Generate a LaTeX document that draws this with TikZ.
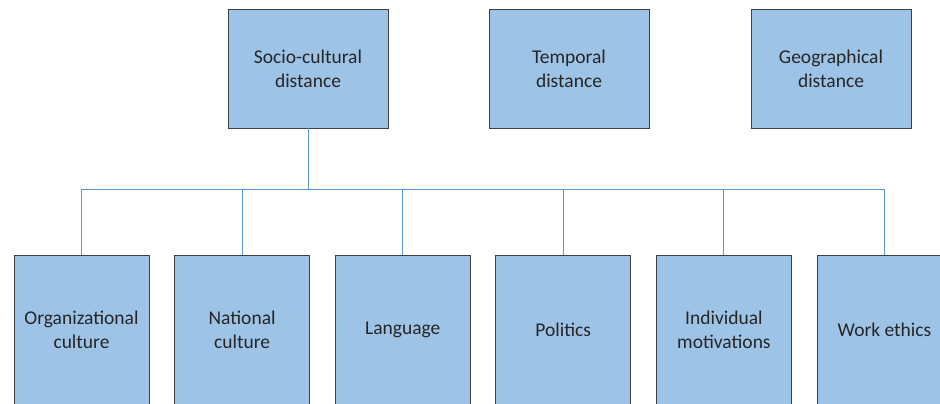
\documentclass[tikz,border=0pt]{standalone}
\usepackage{fontspec}
\setmainfont{Carlito}
\usetikzlibrary{positioning}
\definecolor{boxfill}{HTML}{9DC3E6}
\definecolor{boxline}{HTML}{3F3F3F}
\definecolor{busline}{HTML}{5B9BD5}
\definecolor{txt}{HTML}{262626}

\begin{document}
\begin{tikzpicture}[x=1pt,y=-1pt,on grid,
  topbox/.style={draw=boxline,line width=0.9pt,fill=boxfill,text=txt,
    minimum width=160pt,minimum height=119pt,align=center,
    font=\fontsize{19.5}{24}\selectfont},
  leafbox/.style={topbox,minimum width=135pt,minimum height=150pt},
  conn/.style={busline,line width=1pt}]
  \useasboundingbox (0,0) rectangle (940,404);
  \clip (0,0) rectangle (940,404);
  % distances
  \node[topbox] (socio) at (308,68.5) {Socio-cultural\\distance};
  \node[topbox] (temporal) [right=261pt of socio] {Temporal\\distance};
  \node[topbox] (geo) [right=262pt of temporal] {Geographical\\distance};
  % factors
  \node[leafbox] (org) at (81.5,330) {Organizational\\culture};
  \node[leafbox] (nat) [right=160.6pt of org] {National\\culture};
  \node[leafbox] (lang) [right=160.6pt of nat] {Language};
  \node[leafbox] (pol) [right=160.6pt of lang] {Politics};
  \node[leafbox] (ind) [right=160.6pt of pol] {Individual\\motivations};
  \node[leafbox] (work) [right=160.6pt of ind] {Work ethics};
  \path (socio.south) ++(0,61) coordinate (bus);
  \foreach \n in {org,nat,lang,pol,ind,work}
    \draw[conn] (socio.south) -- (bus) -| (\n.north);
\end{tikzpicture}
\end{document}
